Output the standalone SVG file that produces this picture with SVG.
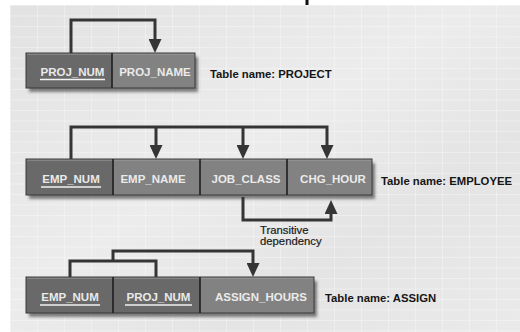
<svg xmlns="http://www.w3.org/2000/svg" width="520" height="332" viewBox="0 0 520 332">
  <style>
    .cellkey { fill: #696969; }
    .cell { fill: #828282; }
    .frame { fill: none; stroke: #3a3a3a; stroke-width: 1; }
    .div { stroke: #1e1e1e; stroke-width: 1.6; }
    .hl { stroke: #a0a0a0; stroke-width: 1; }
    .txt { font-family: "Liberation Sans", Arial, sans-serif; font-weight: bold; font-size: 11.5px; fill: #eaeaea; text-anchor: middle; }
    .ul { stroke: #f2f2f2; stroke-width: 1.3; }
    .lbl { font-family: "Liberation Sans", Arial, sans-serif; font-weight: bold; font-size: 11.3px; fill: #151515; }
    .cap { font-family: "Liberation Sans", Arial, sans-serif; font-size: 11.3px; fill: #1a1a1a; stroke: #1a1a1a; stroke-width: 0.2; }
    .con { fill: none; stroke: #353535; stroke-width: 3; stroke-linejoin: miter; }
  </style>
  <defs>
    <linearGradient id="bg" x1="0" y1="0" x2="1" y2="1">
      <stop offset="0" stop-color="#e2e2e2"/>
      <stop offset="0.45" stop-color="#ececec"/>
      <stop offset="0.7" stop-color="#e4e4e4"/>
      <stop offset="1" stop-color="#eaeaea"/>
    </linearGradient>
    <pattern id="grid" x="10" y="5" width="27" height="10.5" patternUnits="userSpaceOnUse">
      <line x1="0" y1="0.5" x2="27" y2="0.5" stroke="#ffffff" stroke-opacity="0.32" stroke-width="1"/>
      <line x1="0.5" y1="0" x2="0.5" y2="10.5" stroke="#ffffff" stroke-opacity="0.3" stroke-width="1"/>
    </pattern>
    <filter id="sh" x="-5%" y="-20%" width="115%" height="150%">
      <feDropShadow dx="3" dy="4" stdDeviation="1.5" flood-color="#333333" flood-opacity="0.6"/>
    </filter>
    <marker id="ah" markerUnits="userSpaceOnUse" markerWidth="14" markerHeight="13" viewBox="0 0 14 13" refX="6" refY="6.5" orient="auto">
      <path d="M0,0 L14,6.5 L0,13 Z" fill="#353535"/>
    </marker>
  </defs>

  <rect x="0" y="0" width="520" height="332" fill="#ffffff"/>
  <rect x="10" y="5" width="510" height="327" fill="url(#bg)"/>
  <rect x="10" y="5" width="510" height="327" fill="url(#grid)"/>
  <rect x="305.5" y="0" width="3" height="5" fill="#111111"/>

  <g id="connectors">
    <path class="con" d="M71,53 V20 H155 V45" marker-end="url(#ah)"/>
    <path class="con" d="M71,159 V127 H327 V151" marker-end="url(#ah)"/>
    <path class="con" d="M156,127 V151" marker-end="url(#ah)"/>
    <path class="con" d="M243,127 V151" marker-end="url(#ah)"/>
    <path class="con" d="M243,197 V220 H331 V208" marker-end="url(#ah)"/>
    <path class="con" d="M70,277 V261 H156 V277"/>
    <path class="con" d="M113,261 V251 H253 V269" marker-end="url(#ah)"/>
  </g>

  <g id="table-project">
    <g filter="url(#sh)">
      <rect class="cellkey" x="26" y="53" width="86" height="35"/>
      <rect class="cell" x="112" y="53" width="83" height="35"/>
    </g>
    <line class="hl" x1="27" y1="54" x2="194" y2="54"/>
    <rect class="frame" x="26" y="53" width="169" height="35"/>
    <line class="div" x1="112" y1="53" x2="112" y2="88"/>
    <g id="project-proj_num">
      <text class="txt" x="72.5" y="76">PROJ_NUM</text>
      <line class="ul" x1="40" y1="79.5" x2="105" y2="79.5"/>
    </g>
    <g id="project-proj_name"><text class="txt" x="155" y="76">PROJ_NAME</text></g>
  </g>
  <text id="label-project" class="lbl" x="210" y="78">Table name: PROJECT</text>

  <g id="table-employee">
    <g filter="url(#sh)">
      <rect class="cellkey" x="26" y="159" width="87" height="36"/>
      <rect class="cell" x="113" y="159" width="259" height="36"/>
    </g>
    <line class="hl" x1="27" y1="160" x2="371" y2="160"/>
    <rect class="frame" x="26" y="159" width="346" height="36"/>
    <line class="div" x1="113" y1="159" x2="113" y2="195"/>
    <line class="div" x1="200" y1="159" x2="200" y2="195"/>
    <line class="div" x1="287" y1="159" x2="287" y2="195"/>
    <g id="employee-emp_num">
      <text class="txt" x="71" y="183">EMP_NUM</text>
      <line class="ul" x1="41" y1="187" x2="101" y2="187"/>
    </g>
    <g id="employee-emp_name"><text class="txt" x="153" y="183">EMP_NAME</text></g>
    <g id="employee-job_class"><text class="txt" x="246" y="183">JOB_CLASS</text></g>
    <g id="employee-chg_hour"><text class="txt" x="333" y="183">CHG_HOUR</text></g>
  </g>
  <text id="label-employee" class="lbl" x="381" y="185">Table name: EMPLOYEE</text>
  <text class="cap" x="260" y="233.5">Transitive</text>
  <text class="cap" x="260" y="245">dependency</text>

  <g id="table-assign">
    <g filter="url(#sh)">
      <rect class="cellkey" x="26" y="277" width="87" height="36"/>
      <rect class="cellkey" x="113" y="277" width="87" height="36"/>
      <rect class="cell" x="200" y="277" width="114" height="36"/>
    </g>
    <line class="hl" x1="27" y1="278" x2="313" y2="278"/>
    <rect class="frame" x="26" y="277" width="288" height="36"/>
    <line class="div" x1="113" y1="277" x2="113" y2="313"/>
    <line class="div" x1="200" y1="277" x2="200" y2="313"/>
    <g id="assign-emp_num">
      <text class="txt" x="70" y="301">EMP_NUM</text>
      <line class="ul" x1="40" y1="305" x2="100" y2="305"/>
    </g>
    <g id="assign-proj_num">
      <text class="txt" x="158.5" y="301">PROJ_NUM</text>
      <line class="ul" x1="125" y1="305" x2="192" y2="305"/>
    </g>
    <g id="assign-assign_hours"><text class="txt" x="261" y="301">ASSIGN_HOURS</text></g>
  </g>
  <text id="label-assign" class="lbl" x="325" y="302">Table name: ASSIGN</text>
</svg>
